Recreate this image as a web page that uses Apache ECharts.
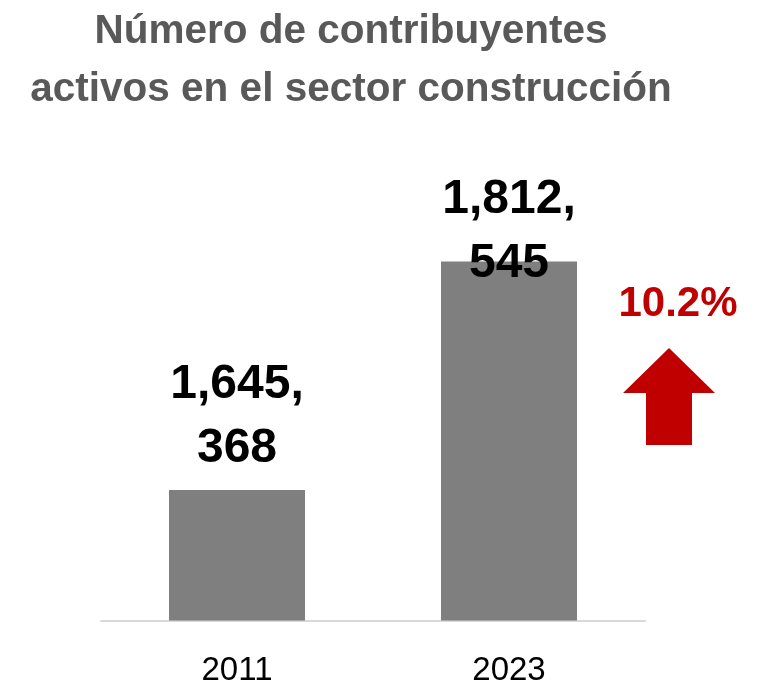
<!DOCTYPE html>
<html>
<head>
<meta charset="utf-8">
<script src="https://cdn.jsdelivr.net/npm/echarts@6/dist/echarts.min.js"></script>
<style>
  html, body { margin: 0; padding: 0; background: #fff; }
  #chart { width: 764px; height: 682px; }
</style>
</head>
<body>
<div id="chart"></div>
<script>
// datos
const categories = ['2011', '2023'];
const contribuyentes = [1645368, 1812545];
// eje vertical oculto, no parte de cero
const yMin = 1550000;
const yMax = 1900000;
// desplazamiento vertical de cada etiqueta (la de 2023 cae sobre la barra)
const labelShift = [0, 43];

const chart = echarts.init(document.getElementById('chart'));

// 1645368 -> "1,645,\n368"
function fmt(v) {
    const s = v.toLocaleString('en-US');
    const i = s.lastIndexOf(',');
    return s.slice(0, i + 1) + '\n' + s.slice(i + 1);
}

const growth = (contribuyentes[1] / contribuyentes[0] - 1) * 100;

const option = {
    title: {
        text: 'Número de contribuyentes\nactivos en el sector construcción',
        left: 346,
        top: -2,
        textAlign: 'center',
        textStyle: {
            fontFamily: 'Liberation Sans',
            fontSize: 40.5,
            fontWeight: 'bold',
            lineHeight: 58,
            color: '#595959'
        }
    },
    grid: {
        left: 101,
        right: 119,
        top: 142,
        bottom: 61.5,
        outerBoundsMode: 'none'
    },
    xAxis: {
        type: 'category',
        data: categories,
        axisTick: { show: false },
        axisLine: {
            lineStyle: { color: '#d9d9d9', width: 2 }
        },
        axisLabel: {
            margin: 34,
            fontFamily: 'Liberation Sans',
            fontSize: 33,
            color: '#000'
        }
    },
    yAxis: {
        type: 'value',
        min: yMin,
        max: yMax,
        show: false,
        splitLine: { show: false }
    },
    series: [
        {
            type: 'bar',
            barWidth: '50%',
            itemStyle: { color: '#7f7f7f' },
            label: {
                show: true,
                position: 'top',
                distance: 9,
                formatter: p => fmt(p.value),
                fontFamily: 'Liberation Sans',
                fontSize: 48,
                fontWeight: 'bold',
                lineHeight: 64,
                color: '#000'
            },
            data: contribuyentes.map((v, i) => ({
                value: v,
                label: { offset: [0, labelShift[i]] }
            }))
        }
    ],
    graphic: [
        {
            type: 'polygon',
            shape: {
                points: [[669, 348], [715, 393], [692, 393], [692, 445], [646, 445], [646, 393], [623, 393]]
            },
            style: { fill: '#c00000' }
        },
        {
            type: 'text',
            x: 678,
            y: 304,
            style: {
                text: growth.toFixed(1) + '%',
                fontFamily: 'Liberation Sans',
                fontSize: 42,
                fontWeight: 'bold',
                fill: '#c00000',
                align: 'center',
                verticalAlign: 'middle'
            }
        }
    ]
};

chart.setOption(option);
</script>
</body>
</html>
